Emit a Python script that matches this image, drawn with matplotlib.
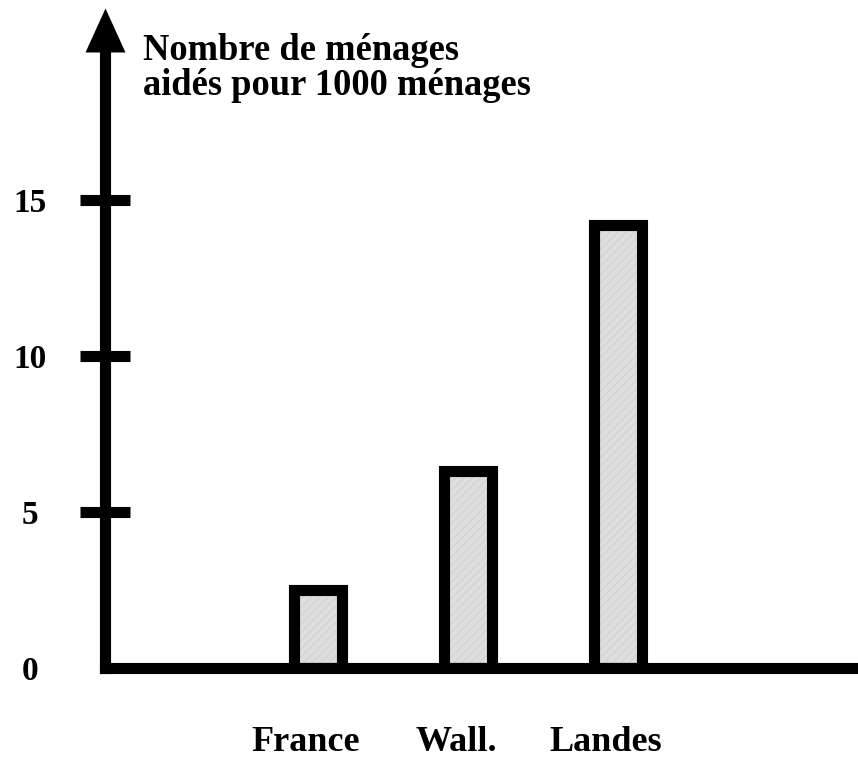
import matplotlib.pyplot as plt
import matplotlib.transforms as mtransforms
from matplotlib.path import Path

plt.rcParams['font.family'] = ['Liberation Serif', 'DejaVu Serif']
plt.rcParams['font.weight'] = 'bold'
plt.rcParams['hatch.linewidth'] = 0.5

# donnees
categories = ['France', 'Wall.', 'Landes']
valeurs = [2.5, 6.3, 14.2]
graduations = [0, 5, 10, 15]
titre = 'Nombre de ménages\naidés pour 1000 ménages'

fig = plt.figure(figsize=(8.58, 7.65), dpi=100)
# axe y de 668 px (0) jusqu'a la base de la fleche (52 px)
ax = fig.add_axes([105 / 858, 97 / 765, 750 / 858, 616 / 765])

positions = list(range(len(categories)))

# remplissage gris clair legerement strie, puis contour noir epais
ax.bar(positions, valeurs, width=0.32, color='#dedede', edgecolor='#cacaca',
       hatch='////', linewidth=0, zorder=2)
ax.bar(positions, valeurs, width=0.32, fill=False, edgecolor='black',
       linewidth=8, zorder=3)

ax.set_xlim(-1.42, 3.58)
ax.set_ylim(0, 19.74)

# axes dessines a la main : trait vertical avec fleche, trait horizontal
for cote in ['top', 'right']:
    ax.spines[cote].set_visible(False)
for cote in ['left', 'bottom']:
    ax.spines[cote].set_linewidth(8)
    ax.spines[cote].set_capstyle('projecting')

pointe = Path([(-20, 0), (20, 0), (0, 44), (-20, 0)],
              [Path.MOVETO, Path.LINETO, Path.LINETO, Path.CLOSEPOLY])
ax.plot([0], [1], transform=ax.transAxes, marker=pointe, markersize=63.4,
        color='black', markeredgewidth=0, clip_on=False, zorder=5)

ax.set_yticks(graduations)
ax.set_yticklabels([str(g) for g in graduations], fontsize=24, fontweight='bold')
ax.tick_params(axis='y', direction='inout', length=36, width=8, pad=36)
for lab in ax.get_yticklabels():
    lab.set_horizontalalignment('center')
ax.yaxis.get_major_ticks()[0].tick1line.set_visible(False)

ax.set_xticks(positions)
ax.set_xticklabels(categories, fontsize=26, fontweight='bold')
ax.tick_params(axis='x', length=0, pad=42)
decalage = mtransforms.ScaledTranslation(-12 / 100, 0, fig.dpi_scale_trans)
for lab in ax.get_xticklabels():
    lab.set_transform(lab.get_transform() + decalage)

fig.text(143 / 858, 1 - 33 / 765, titre, fontsize=26.3, fontweight='bold',
         ha='left', va='top', linespacing=1.0)

fig.savefig('out.png', dpi=100)
